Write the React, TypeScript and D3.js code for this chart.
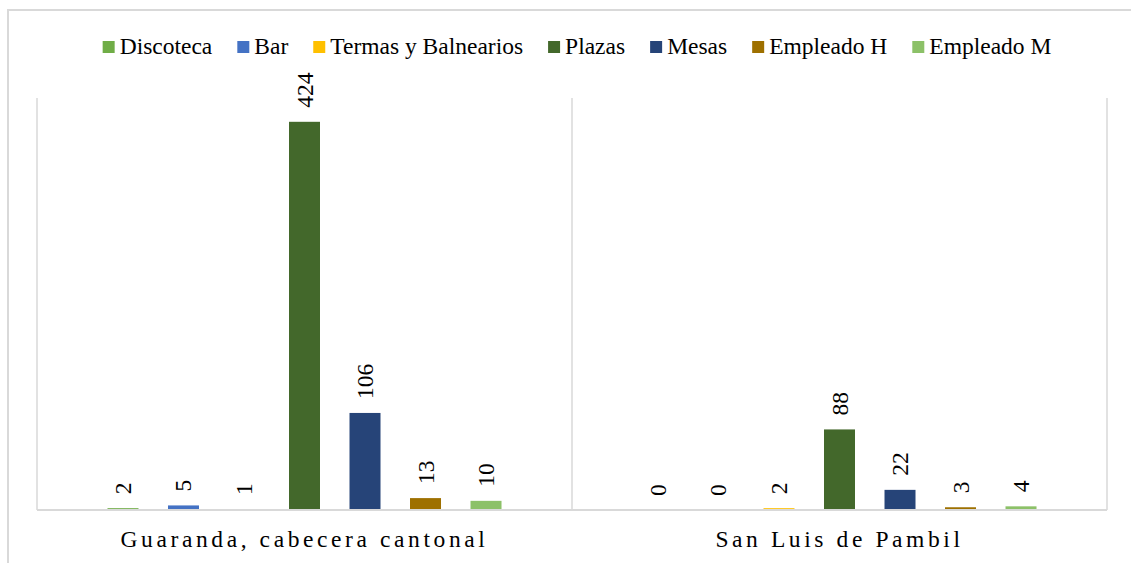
import React, { useLayoutEffect, useRef, useState } from "react";
import * as d3 from "d3";

const categories = ["Guaranda, cabecera cantonal", "San Luis de Pambil"];
const seriesNames = ["Discoteca", "Bar", "Termas y Balnearios", "Plazas", "Mesas", "Empleado H", "Empleado M"];
const seriesColors = ["#70ad47", "#4472c4", "#ffc000", "#43682b", "#264478", "#9e7000", "#8cc168"];
const guarandaValues = [2, 5, 1, 424, 106, 13, 10];
const sanLuisValues = [0, 0, 2, 88, 22, 3, 4];

const W = 1131;
const H = 563;
const FS = 23.5;
const plot = { left: 37, right: 1107, top: 98, bottom: 510 };
const rows = [guarandaValues, sanLuisValues];

export default function App() {
  const legendRef = useRef<SVGGElement>(null);
  const [offs, setOffs] = useState<number[]>(seriesNames.map((_, i) => i * 140));
  const [legendStart, setLegendStart] = useState(90);

  // measure legend labels so the row can be centred
  useLayoutEffect(() => {
    const texts = legendRef.current!.querySelectorAll("text");
    let xpos = 0;
    const o: number[] = [];
    texts.forEach((t) => {
      o.push(xpos);
      xpos += 17 + (t as SVGTextElement).getComputedTextLength() + 25;
    });
    setOffs(o);
    setLegendStart(577 - (xpos - 25) / 2);
  }, []);

  const x0 = d3.scaleBand().domain(categories).range([plot.left, plot.right]);
  const x1 = d3.scaleBand().domain(seriesNames).range([0, x0.bandwidth()])
    .paddingInner(0.4876).paddingOuter(1.165);
  const y = d3.scaleLinear().domain([0, 450]).range([plot.bottom, plot.top]);
  const seps = [plot.left, ...categories.map((c) => x0(c)! + x0.bandwidth())];

  return (
    <svg width={W} height={H}
      style={{ position: "absolute", left: 0, top: 0, background: "#fff", overflow: "hidden", fontFamily: "Liberation Serif", fontSize: FS }}>
      <rect x={8} y={10} width={1160} height={600} fill="#fff" stroke="#d9d9d9" strokeWidth={2} />
      {seps.map((s, i) => (
        <line key={i} x1={s} x2={s} y1={plot.top} y2={plot.bottom} stroke="#d9d9d9" strokeWidth={1.5} />
      ))}
      {categories.map((c, ci) => (
        <g key={c} transform={`translate(${x0(c)},0)`}>
          {rows[ci].map((v, i) => (
            <rect key={i} x={x1(seriesNames[i])} y={y(v)} width={x1.bandwidth()}
              height={plot.bottom - y(v)} fill={seriesColors[i]} />
          ))}
          {rows[ci].map((v, i) => (
            <text key={"l" + i} dominantBaseline="central" fill="#000"
              transform={`translate(${x1(seriesNames[i])! + x1.bandwidth() / 2},${y(v) - 14}) rotate(-90)`}>
              {v}
            </text>
          ))}
          <text x={x0.bandwidth() / 2} y={547} textAnchor="middle" fill="#000" style={{ letterSpacing: "3.6px" }}>
            {c}
          </text>
        </g>
      ))}
      <line x1={plot.left} x2={plot.right} y1={plot.bottom} y2={plot.bottom} stroke="#d9d9d9" strokeWidth={2} />
      <g ref={legendRef}>
        {seriesNames.map((n, i) => (
          <g key={n} transform={`translate(${legendStart + offs[i]},0)`}>
            <rect y={41} width={12} height={12} fill={seriesColors[i]} />
            <text x={17} y={54} fill="#000">{n}</text>
          </g>
        ))}
      </g>
    </svg>
  );
}
